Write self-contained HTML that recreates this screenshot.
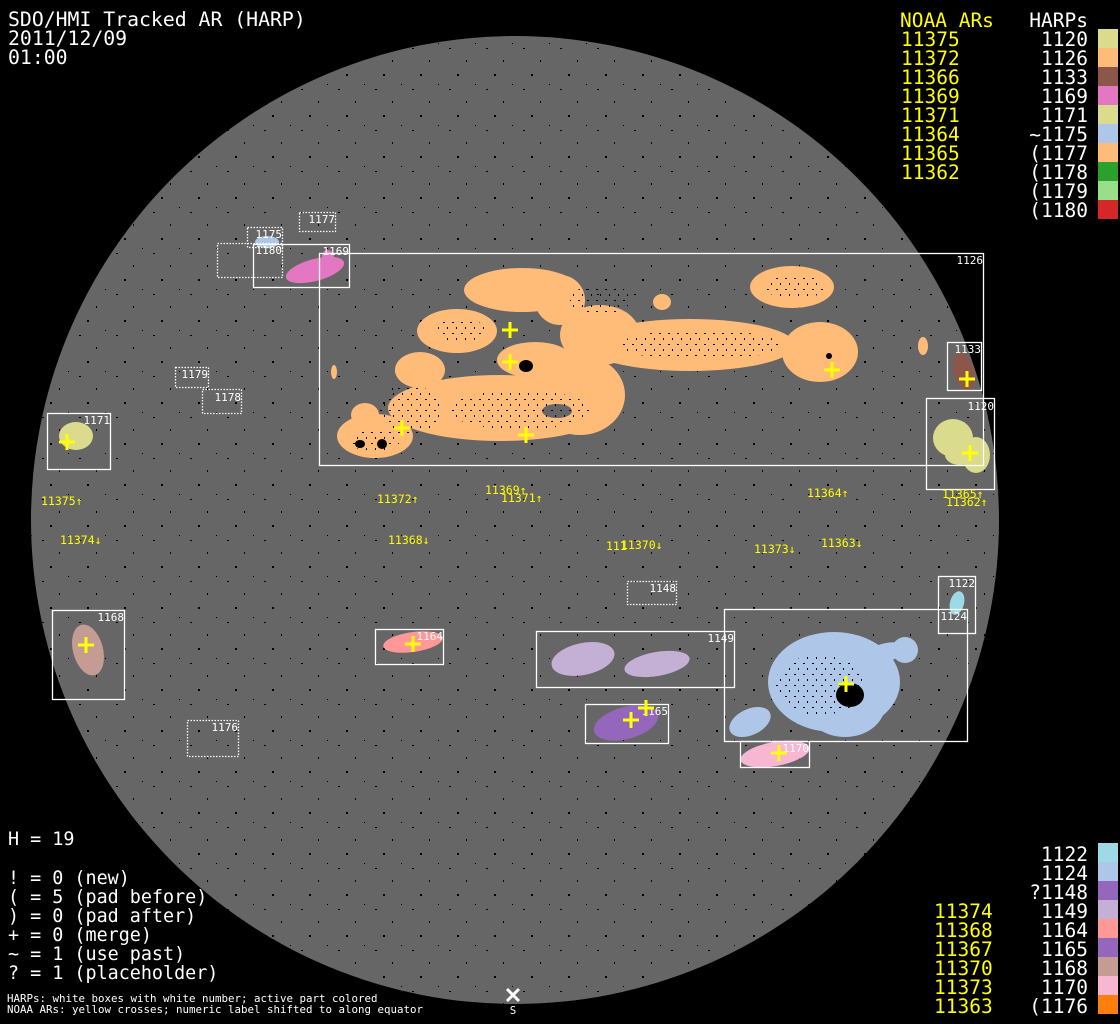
<!DOCTYPE html>
<html><head><meta charset="utf-8"><style>
html,body{margin:0;padding:0;background:#000;}
svg{display:block;}
text{font-family:"DejaVu Sans Mono","Liberation Mono",monospace;}
</style></head><body>
<svg width="1120" height="1024" viewBox="0 0 1120 1024" xmlns="http://www.w3.org/2000/svg">
<defs>
<pattern id="sp" width="37" height="41" patternUnits="userSpaceOnUse">
<rect x="5" y="7" width="2" height="1" fill="#000"/>
<rect x="22" y="19" width="1" height="2" fill="#000"/>
<rect x="13" y="33" width="2" height="2" fill="#000"/>
<rect x="31" y="2" width="1" height="1" fill="#000"/>
</pattern>
<pattern id="sp2" width="9" height="11" patternUnits="userSpaceOnUse">
<rect x="2" y="3" width="2" height="1" fill="#000"/>
<rect x="6" y="8" width="1" height="2" fill="#000"/>
</pattern>
<clipPath id="disk"><circle cx="515" cy="520" r="484"/></clipPath>
</defs>
<rect width="1120" height="1024" fill="#000"/>
<circle cx="515" cy="520" r="484" fill="#666"/>
<rect x="31" y="36" width="968" height="968" fill="url(#sp)" clip-path="url(#disk)"/>

<!-- orange 1126 -->
<g fill="#ffbb78">
<ellipse cx="522" cy="290" rx="58" ry="22"/>
<ellipse cx="560" cy="300" rx="25" ry="25"/>
<ellipse cx="792" cy="287" rx="42" ry="21"/>
<ellipse cx="457" cy="331" rx="40" ry="22"/>
<ellipse cx="535" cy="360" rx="38" ry="18"/>
<ellipse cx="690" cy="345" rx="105" ry="26"/>
<ellipse cx="820" cy="352" rx="38" ry="30"/>
<ellipse cx="600" cy="335" rx="40" ry="30"/>
<ellipse cx="500" cy="408" rx="112" ry="33"/>
<ellipse cx="420" cy="370" rx="25" ry="18"/>
<ellipse cx="580" cy="395" rx="45" ry="40"/>
<ellipse cx="375" cy="436" rx="38" ry="22"/>
<ellipse cx="365" cy="415" rx="14" ry="12"/>
<ellipse cx="662" cy="302" rx="9" ry="8"/>
<ellipse cx="923" cy="346" rx="5" ry="9"/>
<ellipse cx="334" cy="372" rx="3" ry="7"/>
</g>
<ellipse cx="557" cy="411" rx="15" ry="7" fill="#666"/>
<g fill="url(#sp2)">
<ellipse cx="410" cy="410" rx="30" ry="25"/>
<ellipse cx="375" cy="440" rx="25" ry="12"/>
<ellipse cx="600" cy="300" rx="30" ry="15"/>
<ellipse cx="795" cy="287" rx="30" ry="12"/>
<ellipse cx="700" cy="345" rx="80" ry="15"/>
<ellipse cx="520" cy="410" rx="70" ry="20"/>
<ellipse cx="460" cy="330" rx="25" ry="12"/>
</g>
<ellipse cx="526" cy="366" rx="7" ry="6" fill="#000"/>
<g fill="#000">
<ellipse cx="360" cy="444" rx="5" ry="4"/><ellipse cx="382" cy="444" rx="5" ry="5"/>
<ellipse cx="829" cy="356" rx="3" ry="3"/>
</g>

<!-- other blobs -->
<ellipse cx="315" cy="270" rx="30" ry="11" transform="rotate(-15 315 270)" fill="#e377c2"/>
<ellipse cx="328" cy="256" rx="6" ry="6" fill="#e377c2"/>
<ellipse cx="267" cy="242" rx="12" ry="6" fill="#aec7e8"/>
<ellipse cx="76" cy="436" rx="17" ry="14" fill="#dbdb8d"/>
<ellipse cx="88" cy="650" rx="15" ry="26" transform="rotate(-15 88 650)" fill="#c49c94"/>
<ellipse cx="413" cy="642" rx="30" ry="10" transform="rotate(-8 413 642)" fill="#ff9896"/>
<ellipse cx="583" cy="659" rx="32" ry="16" transform="rotate(-12 583 659)" fill="#c5b0d5"/>
<ellipse cx="657" cy="664" rx="33" ry="12" transform="rotate(-10 657 664)" fill="#c5b0d5"/>
<ellipse cx="626" cy="723" rx="33" ry="16" transform="rotate(-15 626 723)" fill="#9467bd"/>
<g fill="#aec7e8">
<ellipse cx="834" cy="682" rx="66" ry="50"/>
<ellipse cx="845" cy="705" rx="40" ry="32"/>
<ellipse cx="880" cy="655" rx="25" ry="10" transform="rotate(-20 880 655)"/>
<ellipse cx="905" cy="650" rx="13" ry="13"/>
<ellipse cx="750" cy="722" rx="22" ry="13" transform="rotate(-25 750 722)"/>
</g>
<ellipse cx="820" cy="685" rx="45" ry="30" fill="url(#sp2)"/>
<ellipse cx="850" cy="695" rx="14" ry="12" fill="#000"/>
<ellipse cx="957" cy="603" rx="7" ry="12" transform="rotate(15 957 603)" fill="#9edae5"/>
<ellipse cx="775" cy="754" rx="35" ry="12" transform="rotate(-10 775 754)" fill="#f7b6d2"/>
<ellipse cx="964" cy="372" rx="10" ry="20" transform="rotate(-15 964 372)" fill="#8c564b"/>
<ellipse cx="953" cy="438" rx="20" ry="19" fill="#dbdb8d"/>
<ellipse cx="976" cy="455" rx="14" ry="18" fill="#dbdb8d"/>
<ellipse cx="960" cy="455" rx="15" ry="10" fill="#dbdb8d"/>

<!-- boxes -->
<g fill="none" stroke="#fff" stroke-width="1.3">
<rect x="319.5" y="253.5" width="664" height="212"/>
<rect x="253.5" y="244.5" width="96" height="43"/>
<rect x="947.5" y="342.5" width="34" height="48"/>
<rect x="926.5" y="398.5" width="68" height="91"/>
<rect x="47.5" y="413.5" width="63" height="56"/>
<rect x="52.5" y="610.5" width="72" height="89"/>
<rect x="375.5" y="629.5" width="68" height="35"/>
<rect x="536.5" y="631.5" width="198" height="56"/>
<rect x="585.5" y="704.5" width="83" height="39"/>
<rect x="724.5" y="609.5" width="243" height="132"/>
<rect x="938.5" y="576.5" width="37" height="57"/>
<rect x="740.5" y="741.5" width="69" height="26"/>
</g>
<g fill="none" stroke="#fff" stroke-width="1.3" stroke-dasharray="1.5 1.5">
<rect x="247.5" y="227.5" width="35" height="20"/>
<rect x="217.5" y="243.5" width="65" height="34"/>
<rect x="299.5" y="212.5" width="36" height="19"/>
<rect x="175.5" y="367.5" width="33" height="20"/>
<rect x="202.5" y="389.5" width="39" height="24"/>
<rect x="187.5" y="720.5" width="51" height="36"/>
<rect x="627.5" y="581.5" width="49" height="23"/>
</g>
<g fill="#fff" font-size="11" text-anchor="end">
<text x="983" y="264">1126</text>
<text x="349" y="255">1169</text>
<text x="282" y="238">1175</text>
<text x="282" y="254">1180</text>
<text x="335" y="223">1177</text>
<text x="208" y="378">1179</text>
<text x="241" y="401">1178</text>
<text x="981" y="353">1133</text>
<text x="994" y="410">1120</text>
<text x="110" y="424">1171</text>
<text x="124" y="621">1168</text>
<text x="443" y="640">1164</text>
<text x="238" y="731">1176</text>
<text x="676" y="592">1148</text>
<text x="734" y="642">1149</text>
<text x="668" y="715">1165</text>
<text x="967" y="620">1124</text>
<text x="975" y="587">1122</text>
<text x="809" y="752">1170</text>
</g>

<!-- yellow crosses -->
<g stroke="#ff0" stroke-width="3">
<path d="M510 322v16M502 330h16"/>
<path d="M510 354v16M502 362h16"/>
<path d="M402 420v16M394 428h16"/>
<path d="M526 427v16M518 435h16"/>
<path d="M832 362v16M824 370h16"/>
<path d="M967 371v16M959 379h16"/>
<path d="M970 445v16M962 453h16"/>
<path d="M67 434v16M59 442h16"/>
<path d="M86 637v16M78 645h16"/>
<path d="M413 636v16M405 644h16"/>
<path d="M631 712v16M623 720h16"/>
<path d="M646 700v16M638 708h16"/>
<path d="M846 676v16M838 684h16"/>
<path d="M779 745v16M771 753h16"/>
</g>

<!-- equator labels -->
<g fill="#ff0" font-size="11.5">
<text x="41" y="505">11375↑</text>
<text x="377" y="503">11372↑</text>
<text x="485" y="494">11369↑</text>
<text x="501" y="502">11371↑</text>
<text x="807" y="497">11364↑</text>
<text x="942" y="498">11365↑</text>
<text x="946" y="506">11362↑</text>
<text x="60" y="544">11374↓</text>
<text x="388" y="544">11368↓</text>
<text x="606" y="550">111</text>
<text x="621" y="549">11370↓</text>
<text x="754" y="553">11373↓</text>
<text x="821" y="547">11363↓</text>
</g>

<!-- title -->
<g fill="#fff" font-size="19.8">
<text x="8" y="26">SDO/HMI Tracked AR (HARP)</text>
<text x="8" y="45">2011/12/09</text>
<text x="8" y="64">01:00</text>
</g>
<g fill="#fff" font-size="18.4">
<text x="8" y="845">H = 19</text>
<text x="8" y="884">! = 0 (new)</text>
<text x="8" y="903">( = 5 (pad before)</text>
<text x="8" y="922">) = 0 (pad after)</text>
<text x="8" y="941">+ = 0 (merge)</text>
<text x="8" y="960">~ = 1 (use past)</text>
<text x="8" y="979">? = 1 (placeholder)</text>
</g>
<g fill="#fff" font-size="10.8">
<text x="7" y="1002">HARPs: white boxes with white number; active part colored</text>
<text x="7" y="1013">NOAA ARs: yellow crosses; numeric label shifted to along equator</text>
</g>
<path d="M507 989l12 12M519 989l-12 12" stroke="#fff" stroke-width="3"/>
<text x="513" y="1014" fill="#fff" font-size="10.8" text-anchor="middle">S</text>

<!-- top legend -->
<g fill="#ff0" font-size="19.5">
<text x="900" y="27">NOAA ARs</text>
<text x="901" y="46">11375</text><text x="901" y="65">11372</text><text x="901" y="84">11366</text>
<text x="901" y="103">11369</text><text x="901" y="122">11371</text><text x="901" y="141">11364</text>
<text x="901" y="160">11365</text><text x="901" y="179">11362</text>
</g>
<g fill="#fff" font-size="19.5" text-anchor="end">
<text x="1088" y="27">HARPs</text>
<text x="1088" y="46">1120</text><text x="1088" y="65">1126</text><text x="1088" y="84">1133</text>
<text x="1088" y="103">1169</text><text x="1088" y="122">1171</text><text x="1088" y="141">~1175</text>
<text x="1088" y="160">(1177</text><text x="1088" y="179">(1178</text><text x="1088" y="198">(1179</text>
<text x="1088" y="217">(1180</text>
</g>
<rect x="1098" y="29" width="20" height="19" fill="#dbdb8d"/>
<rect x="1098" y="48" width="20" height="19" fill="#ffbb78"/>
<rect x="1098" y="67" width="20" height="19" fill="#8c564b"/>
<rect x="1098" y="86" width="20" height="19" fill="#e377c2"/>
<rect x="1098" y="105" width="20" height="19" fill="#dbdb8d"/>
<rect x="1098" y="124" width="20" height="19" fill="#aec7e8"/>
<rect x="1098" y="143" width="20" height="19" fill="#ffbb78"/>
<rect x="1098" y="162" width="20" height="19" fill="#2ca02c"/>
<rect x="1098" y="181" width="20" height="19" fill="#98df8a"/>
<rect x="1098" y="200" width="20" height="19" fill="#d62728"/>

<!-- bottom legend -->
<g fill="#ff0" font-size="19.5">
<text x="934" y="918">11374</text><text x="934" y="937">11368</text><text x="934" y="956">11367</text>
<text x="934" y="975">11370</text><text x="934" y="994">11373</text><text x="934" y="1013">11363</text>
</g>
<g fill="#fff" font-size="19.5" text-anchor="end">
<text x="1088" y="861">1122</text><text x="1088" y="880">1124</text><text x="1088" y="899">?1148</text>
<text x="1088" y="918">1149</text><text x="1088" y="937">1164</text><text x="1088" y="956">1165</text>
<text x="1088" y="975">1168</text><text x="1088" y="994">1170</text><text x="1088" y="1013">(1176</text>
</g>
<rect x="1098" y="843" width="20" height="19" fill="#9edae5"/>
<rect x="1098" y="862" width="20" height="19" fill="#aec7e8"/>
<rect x="1098" y="881" width="20" height="19" fill="#9467bd"/>
<rect x="1098" y="900" width="20" height="19" fill="#c5b0d5"/>
<rect x="1098" y="919" width="20" height="19" fill="#ff9896"/>
<rect x="1098" y="938" width="20" height="19" fill="#9467bd"/>
<rect x="1098" y="957" width="20" height="19" fill="#c49c94"/>
<rect x="1098" y="976" width="20" height="19" fill="#f7b6d2"/>
<rect x="1098" y="995" width="20" height="19" fill="#ff7f0e"/>
</svg>
</body></html>
